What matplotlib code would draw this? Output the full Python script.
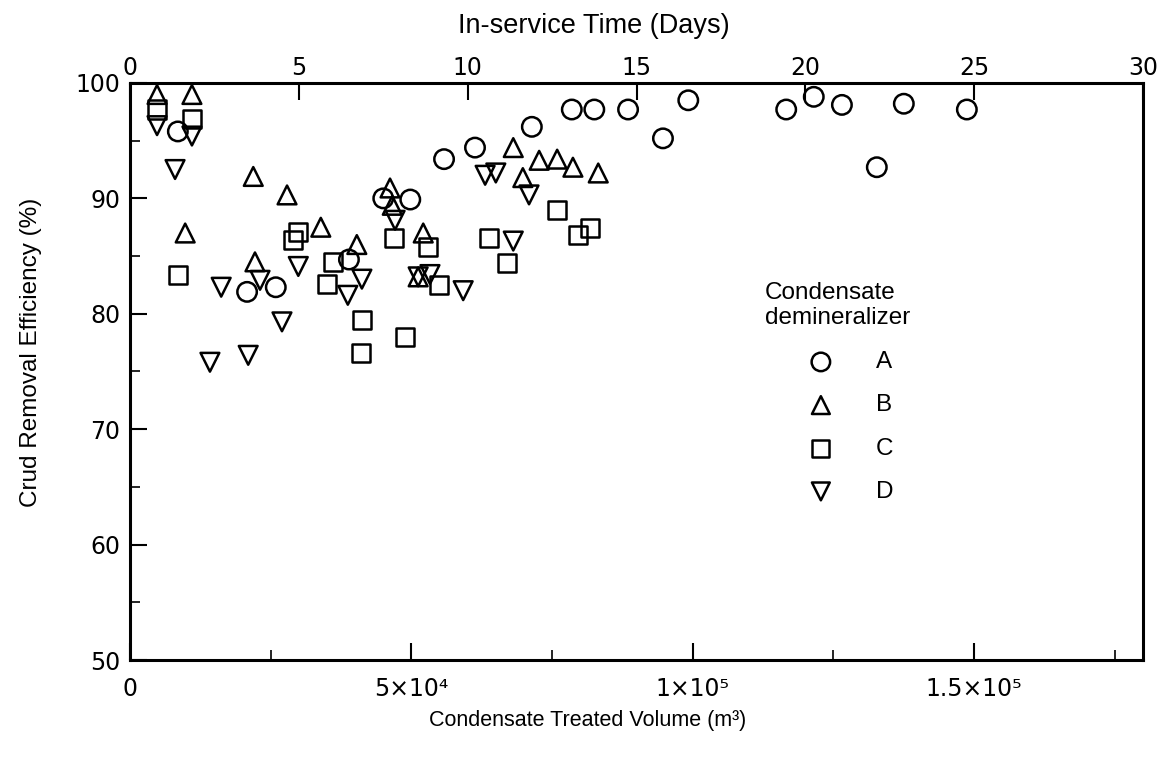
import matplotlib
matplotlib.use("Agg")
import matplotlib.pyplot as plt
from matplotlib.ticker import FixedLocator, MultipleLocator

plt.rcParams['font.family'] = ['Liberation Sans', 'DejaVu Sans']

# Data: condensate treated volume (m3) vs crud removal efficiency (%)
a_vol = [8500, 20800, 25900, 38900, 45000, 49800, 55800, 61300, 71400, 78500,
         82500, 88500, 94700, 99200, 116600, 121500, 126500, 132700, 137500, 148700]
a_eff = [95.8, 81.9, 82.3, 84.7, 90.0, 89.9, 93.4, 94.4, 96.2, 97.7,
         97.7, 97.7, 95.2, 98.5, 97.7, 98.8, 98.1, 92.7, 98.2, 97.7]

b_vol = [4800, 11000, 9800, 21900, 22200, 27900, 33900, 40300, 46200, 46600,
         52100, 51200, 68100, 69800, 72700, 75900, 78700, 83200]
b_eff = [99.0, 99.0, 87.0, 91.9, 84.5, 90.3, 87.5, 86.0, 90.9, 89.4,
         87.0, 83.2, 94.4, 91.8, 93.3, 93.4, 92.7, 92.2]

c_vol = [4800, 11000, 8500, 29000, 29900, 35000, 36100, 41000, 41200, 46900,
         48900, 53000, 54900, 63800, 67000, 75900, 79600, 81700]
c_eff = [97.7, 96.9, 83.4, 86.4, 87.1, 82.6, 84.5, 76.6, 79.5, 86.6,
         78.0, 85.8, 82.5, 86.6, 84.4, 89.0, 86.8, 87.4]

d_vol = [4800, 11000, 8000, 14200, 16200, 21000, 23100, 27000, 29900, 38700,
         41200, 47100, 51200, 53300, 59200, 63100, 65000, 68100, 70900]
d_eff = [96.3, 95.4, 92.5, 75.8, 82.3, 76.4, 82.9, 79.3, 84.1, 81.6,
         83.0, 88.1, 83.2, 83.4, 82.0, 92.0, 92.2, 86.3, 90.3]

series_names = ['A', 'B', 'C', 'D']
bottom_ticks = [0, 50000, 100000, 150000]
bottom_labels = ['0', '5×10⁴', '1×10⁵', '1.5×10⁵']
top_ticks = [0, 5, 10, 15, 20, 25, 30]
y_ticks = [50, 60, 70, 80, 90, 100]

fig = plt.figure(figsize=(11.63, 7.57), dpi=100)
ax = fig.add_axes([0.1118, 0.1281, 0.8710, 0.7623])

common = dict(facecolors='none', edgecolors='black', linewidths=1.8, zorder=3)
ax.scatter(a_vol, a_eff, marker='o', s=14**2, label=series_names[0], **common)
ax.scatter(b_vol, b_eff, marker='^', s=13.5**2, label=series_names[1], **common)
ax.scatter(c_vol, c_eff, marker='s', s=13**2, label=series_names[2], **common)
ax.scatter(d_vol, d_eff, marker='v', s=13.5**2, label=series_names[3], **common)

ax.set_xlim(0, 180000)
ax.set_ylim(50, 100)

ax.xaxis.set_major_locator(FixedLocator(bottom_ticks))
ax.set_xticklabels(bottom_labels)
ax.xaxis.set_minor_locator(MultipleLocator(25000))
ax.yaxis.set_major_locator(FixedLocator(y_ticks))
ax.yaxis.set_minor_locator(MultipleLocator(5))

ax.tick_params(axis='both', which='major', direction='in', length=12, width=1.5,
               labelsize=17)
ax.tick_params(axis='x', which='major', pad=12)
ax.tick_params(axis='y', which='major', pad=7)
ax.tick_params(axis='both', which='minor', direction='in', length=7, width=1.2)
ax.tick_params(axis='y', which='both', right=False)
for lab in ax.get_xticklabels() + ax.get_yticklabels():
    lab.set_family(['DejaVu Sans'])

for sp in ax.spines.values():
    sp.set_linewidth(2.2)

# top axis: in-service time (days)
ax2 = ax.twiny()
ax2.set_xlim(0, 30)
ax2.xaxis.set_major_locator(FixedLocator(top_ticks))
ax2.tick_params(axis='x', which='major', direction='in', length=12, width=1.5,
                labelsize=17, pad=2)
for lab in ax2.get_xticklabels():
    lab.set_family(['DejaVu Sans'])
ax2.set_xlabel('In-service Time (Days)', fontsize=19.5)
ax2.xaxis.set_label_coords(0.458, 1.086)

ax.set_xlabel('Condensate Treated Volume (m³)', fontsize=15.5)
ax.xaxis.set_label_coords(0.452, -0.086)
ax.set_ylabel('Crud Removal Efficiency (%)', fontsize=17.5)
ax.yaxis.set_label_coords(-0.087, 0.534)

# legend title and legend
ax.text(0.627, 0.655, 'Condensate\ndemineralizer', transform=ax.transAxes,
        fontsize=17.5, ha='left', va='top', linespacing=1.15)
leg = ax.legend(loc='upper left', bbox_to_anchor=(0.664, 0.535), frameon=False,
                fontsize=17.5, labelspacing=0.87, handlelength=1.5,
                handletextpad=1.5, borderpad=0, borderaxespad=0,
                markerscale=0.95)

fig.savefig('out.png', dpi=100)
